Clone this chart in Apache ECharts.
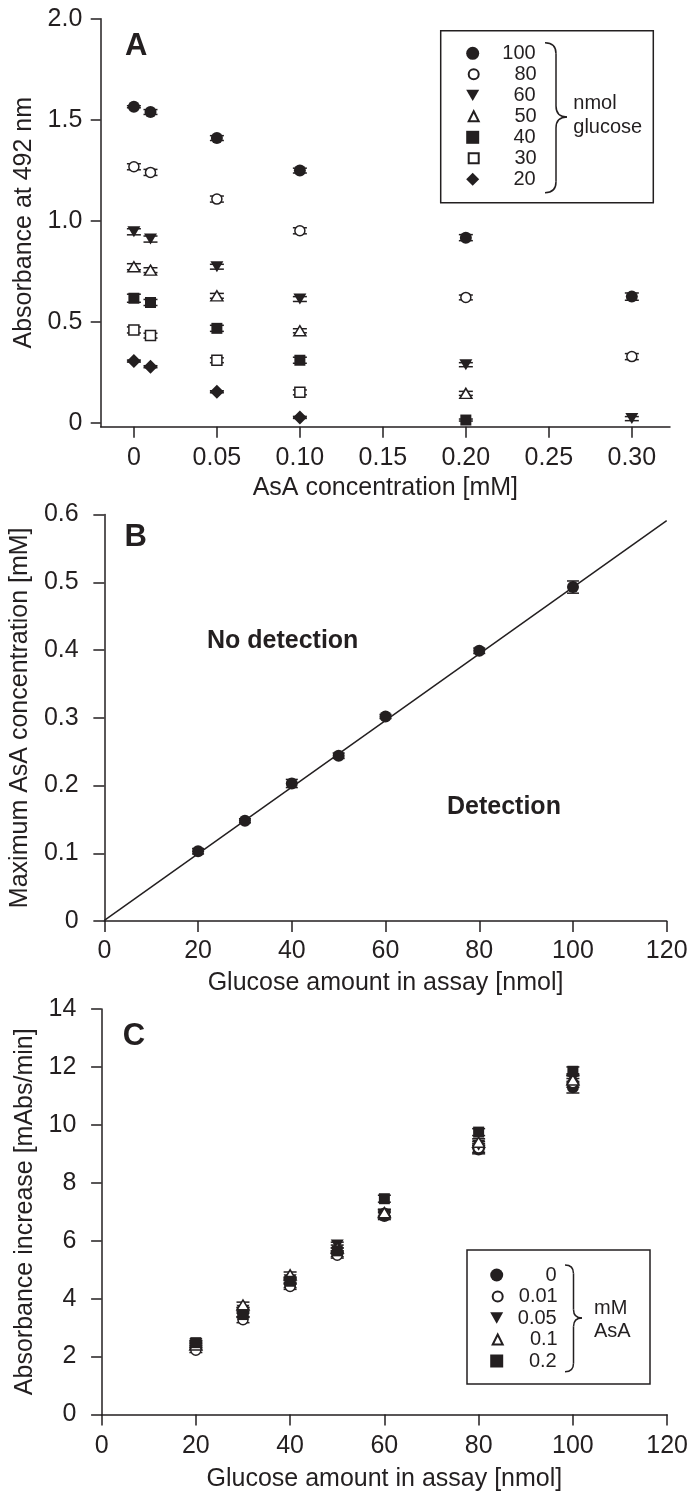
<!DOCTYPE html>
<html>
<head>
<meta charset="utf-8">
<title>AsA interference on glucose assay</title>
<script src="https://cdn.jsdelivr.net/npm/echarts@6/dist/echarts.min.js"></script>
<style>
  html, body { margin: 0; padding: 0; background: #fff; }
  #chart { width: 691px; height: 1493px; }
</style>
</head>
<body>
<div id="chart"></div>
<script>
// ---- data ----
// Panel A: absorbance vs AsA concentration, one series per nmol glucose
const aX = [0, 0.01, 0.05, 0.10, 0.20, 0.30];
const aNames = ['100', '80', '60', '50', '40', '30', '20'];
const aY100 = [1.564, 1.538, 1.409, 1.248, 0.916, 0.624];
const aY80  = [1.267, 1.239, 1.107, 0.950, 0.620, 0.327];
const aY60  = [0.945, 0.909, 0.772, 0.612, 0.287, 0.020];
const aY50  = [0.772, 0.755, 0.628, 0.455, 0.145, null];
const aY40  = [0.616, 0.595, 0.467, 0.309, 0.013, null];
const aY30  = [0.459, 0.431, 0.309, 0.150, null, null];
const aY20  = [0.305, 0.277, 0.153, 0.026, null, null];
const aE100 = [0.005, 0.012, 0.012, 0.012, 0.015, 0.018];
const aE80  = [0.015, 0.015, 0.015, 0.015, 0.012, 0.015];
const aE60  = [0.015, 0.015, 0.012, 0.012, 0.010, 0.010];
const aE50  = [0.015, 0.012, 0.012, 0.010, 0.010, null];
const aE40  = [0.020, 0.015, 0.015, 0.015, 0.005, null];
const aE30  = [0.015, 0.012, 0.012, 0.012, null, null];
const aE20  = [0.005, 0.005, 0.005, 0.005, null, null];

// Panel B: max AsA concentration vs glucose
const bX = [20, 30, 40, 50, 60, 80, 100];
const bY = [0.103, 0.148, 0.203, 0.244, 0.302, 0.399, 0.493];
const bE = [0.004, 0.003, 0.006, 0.004, 0.003, 0.004, 0.009];
const fitX = [0, 120];
const fitY = [0.001, 0.591];

// Panel C: absorbance increase vs glucose, one series per mM AsA
const cX = [20, 30, 40, 50, 60, 80, 100];
const cNames = ['0', '0.01', '0.05', '0.1', '0.2'];
const cY0   = [2.35, 3.50, 4.50, 5.55, 6.85, 9.15, 11.30];
const cY001 = [2.22, 3.27, 4.42, 5.50, 6.95, 9.20, 11.45];
const cY005 = [2.45, 3.60, 4.65, 5.85, 6.90, 9.30, 11.60];
const cY01  = [2.40, 3.78, 4.82, 5.75, 6.97, 9.40, 11.55];
const cY02  = [2.48, 3.45, 4.60, 5.65, 7.45, 9.75, 11.85];
const cE0   = [0.10, 0.12, 0.12, 0.10, 0.12, 0.15, 0.20];
const cE001 = [0.08, 0.10, 0.10, 0.10, 0.12, 0.15, 0.15];
const cE005 = [0.08, 0.10, 0.10, 0.10, 0.12, 0.12, 0.15];
const cE01  = [0.08, 0.10, 0.10, 0.10, 0.12, 0.12, 0.15];
const cE02  = [0.08, 0.10, 0.10, 0.10, 0.12, 0.12, 0.15];

// tick values and labels
const aXTicks = [0, 0.05, 0.10, 0.15, 0.20, 0.25, 0.30];
const aXLabels = ['0', '0.05', '0.10', '0.15', '0.20', '0.25', '0.30'];
const aYTicks = [0, 0.5, 1.0, 1.5, 2.0];
const aYLabels = ['0', '0.5', '1.0', '1.5', '2.0'];
const bXTicks = [0, 20, 40, 60, 80, 100, 120];
const bXLabels = ['0', '20', '40', '60', '80', '100', '120'];
const bYTicks = [0, 0.1, 0.2, 0.3, 0.4, 0.5, 0.6];
const bYLabels = ['0', '0.1', '0.2', '0.3', '0.4', '0.5', '0.6'];
const cYTicks = [0, 2, 4, 6, 8, 10, 12, 14];
const cYLabels = ['0', '2', '4', '6', '8', '10', '12', '14'];

// ---- styling ----
const ink = '#231f20';
const FONT = '"Liberation Sans", Arial, Helvetica, sans-serif';
const invTri = 'path://M0,0L10,0L5,8.66Z';

const aSeriesY = [aY100, aY80, aY60, aY50, aY40, aY30, aY20];
const aSeriesE = [aE100, aE80, aE60, aE50, aE40, aE30, aE20];
const aSym = [['circle', true], ['circle', false], [invTri, true], ['triangle', false], ['rect', true], ['rect', false], ['diamond', true]];
const cSeriesY = [cY0, cY001, cY005, cY01, cY02];
const cSeriesE = [cE0, cE001, cE005, cE01, cE02];
const cSym = [['circle', true], ['circle', false], [invTri, true], ['triangle', false], ['rect', true]];

function symSize(s, filled) {
  if (s === invTri) return [13, 11];
  if (s === 'triangle') return [12, 10];
  if (s === 'rect') return filled ? 11 : 10;
  if (s === 'diamond') return 14;
  return filled ? 12 : 10;
}

function labelFmt(ticks, labels) {
  return function (v) {
    for (let i = 0; i < ticks.length; i++) {
      if (Math.abs(ticks[i] - v) < 1e-6) return labels[i];
    }
    return '';
  };
}

function valueAxis(grid, min, max, ticks, labels, name, nameGap, labelMargin, tickLen) {
  return {
    gridIndex: grid, type: 'value', min: min, max: max,
    name: name, nameLocation: 'middle', nameGap: nameGap,
    nameTextStyle: { fontSize: 25, fontFamily: FONT, color: ink },
    axisLine: { show: true, onZero: false, lineStyle: { color: ink, width: 1.5 } },
    axisTick: { show: true, customValues: ticks, length: tickLen, lineStyle: { color: ink, width: 1.5 } },
    axisLabel: { customValues: ticks, formatter: labelFmt(ticks, labels), margin: labelMargin,
      fontSize: 25, fontFamily: FONT, color: ink },
    splitLine: { show: false }
  };
}

function errRender(half) {
  return function (params, api) {
    const x = api.value(0);
    const top = api.coord([x, api.value(2)]);
    const bot = api.coord([x, api.value(1)]);
    const st = { stroke: ink, lineWidth: 1.5 };
    return {
      type: 'group',
      children: [
        { type: 'line', shape: { x1: top[0], y1: top[1], x2: bot[0], y2: bot[1] }, style: st },
        { type: 'line', shape: { x1: top[0] - half, y1: top[1], x2: top[0] + half, y2: top[1] }, style: st },
        { type: 'line', shape: { x1: bot[0] - half, y1: bot[1], x2: bot[0] + half, y2: bot[1] }, style: st }
      ]
    };
  };
}

function pairs(xs, ys) {
  const out = [];
  xs.forEach((x, i) => { if (ys[i] != null) out.push([x, ys[i]]); });
  return out;
}
function errData(xs, ys, es) {
  const out = [];
  xs.forEach((x, i) => { if (ys[i] != null) out.push([x, ys[i] - es[i], ys[i] + es[i]]); });
  return out;
}

function scatterSeries(name, grid, xs, ys, sym) {
  const filled = sym[1];
  return {
    name: name, type: 'scatter', xAxisIndex: grid, yAxisIndex: grid,
    symbol: sym[0], symbolSize: symSize(sym[0], filled), z: 3,
    itemStyle: filled ? { color: ink, borderWidth: 0, opacity: 1 }
                      : { color: '#fff', borderColor: ink, borderWidth: 1.5, opacity: 1 },
    data: pairs(xs, ys)
  };
}
function errSeries(grid, xs, ys, es, half) {
  return {
    type: 'custom', xAxisIndex: grid, yAxisIndex: grid, z: 2, silent: true,
    renderItem: errRender(half), encode: { x: 0, y: [1, 2] },
    data: errData(xs, ys, es)
  };
}

const series = [];
aNames.forEach((n, i) => {
  series.push(errSeries(0, aX, aSeriesY[i], aSeriesE[i], 7));
  series.push(scatterSeries(n, 0, aX, aSeriesY[i], aSym[i]));
});
series.push({
  type: 'line', xAxisIndex: 1, yAxisIndex: 1, showSymbol: false, symbol: 'none', z: 1, silent: true,
  lineStyle: { color: ink, width: 1.5 }, data: pairs(fitX, fitY)
});
series.push(errSeries(1, bX, bY, bE, 6));
series.push(scatterSeries('B', 1, bX, bY, ['circle', true]));
cNames.forEach((n, i) => {
  series.push(errSeries(2, cX, cSeriesY[i], cSeriesE[i], 6.5));
  series.push(scatterSeries(n, 2, cX, cSeriesY[i], cSym[i]));
});

// legends: filled and open symbols get separate (interleaved) blocks so the
// open icons can be drawn smaller, as in the original figure
function legendBlock(names, syms, wantFilled, cx, rightEdge, firstTop, pitch) {
  const size = wantFilled ? 13 : 10;
  const picked = names.filter((n, i) => syms[i][1] === wantFilled);
  const firstIdx = names.findIndex((n, i) => syms[i][1] === wantFilled);
  return {
    data: picked, orient: 'vertical', left: cx - size / 2, top: firstTop + firstIdx * pitch, padding: 0,
    itemWidth: size, itemHeight: size, itemGap: 2 * pitch - 20, selectedMode: false,
    formatter: n => '{t|' + n + '}',
    textStyle: { rich: { t: { width: rightEdge - cx - size / 2 - 5, align: 'right', fontSize: 20,
      lineHeight: 20, fontFamily: FONT, color: ink } } }
  };
}

const lineStyle = { stroke: ink, lineWidth: 1.5, fill: 'none' };
function txt(x, y, s, size, bold) {
  return {
    type: 'text', x: x, y: y, silent: true,
    style: { text: s, fill: ink, font: (bold ? 'bold ' : '') + size + 'px ' + FONT,
      textAlign: 'left', textVerticalAlign: 'middle', align: 'left', verticalAlign: 'middle' }
  };
}
function box(x1, y1, x2, y2) {
  return { type: 'rect', silent: true, shape: { x: x1, y: y1, width: x2 - x1, height: y2 - y1 },
    style: lineStyle };
}
function curve(xa, ya, cx, cy, xb, yb) {
  return { type: 'bezierCurve', silent: true,
    shape: { x1: xa, y1: ya, cpx1: cx, cpy1: cy, x2: xb, y2: yb }, style: lineStyle };
}
function seg(xa, ya, xb, yb) {
  return { type: 'line', silent: true, shape: { x1: xa, y1: ya, x2: xb, y2: yb }, style: lineStyle };
}
// right-facing curly brace: ends at x0, spine at x1, tip at xt
function brace(x0, x1, xt, y0, ym, y1) {
  const r = xt - x1;
  return [
    curve(x0, y0, x1, y0, x1, y0 + r),
    seg(x1, y0 + r, x1, ym - r),
    curve(x1, ym - r, x1, ym, xt, ym),
    curve(xt, ym, x1, ym, x1, ym + r),
    seg(x1, ym + r, x1, y1 - r),
    curve(x1, y1 - r, x1, y1, x0, y1)
  ];
}

const graphics = [
  txt(125, 46.2, 'A', 31, true),
  txt(124.6, 537, 'B', 31, true),
  txt(122.7, 1036, 'C', 31, true),
  txt(207, 641, 'No detection', 25, true),
  txt(447, 807, 'Detection', 25, true),
  box(440.7, 30.7, 653.3, 202.7),
  txt(573.3, 103.8, 'nmol', 20, false),
  txt(573.3, 127, 'glucose', 20, false),
  box(467, 1250, 650, 1384),
  txt(594, 1308, 'mM', 20, false),
  txt(594, 1331.4, 'AsA', 20, false)
].concat(brace(545, 556, 567, 42.7, 117, 192.7), brace(565, 573.5, 582, 1265, 1318, 1371.7));

const option = {
  animation: false,
  backgroundColor: '#fff',
  textStyle: { fontFamily: FONT, color: ink },
  grid: [
    { left: 100.7, top: 18.7, width: 569.3, height: 408 },
    { left: 102.7, top: 514.6, width: 564, height: 406.4 },
    { left: 101.6, top: 1009, width: 567, height: 405.8 }
  ],
  xAxis: [
    valueAxis(0, -0.02, 0.323, aXTicks, aXLabels, 'AsA concentration [mM]', 48.5, 18.5, 11),
    valueAxis(1, 0, 120, bXTicks, bXLabels, 'Glucose amount in assay [nmol]', 50, 18, 11),
    valueAxis(2, 0, 120, bXTicks, bXLabels, 'Glucose amount in assay [nmol]', 52.5, 19.5, 11)
  ],
  yAxis: [
    valueAxis(0, -0.02, 2.0, aYTicks, aYLabels, 'Absorbance at 492 nm', 58, 18.4, 10),
    valueAxis(1, 0, 0.6, bYTicks, bYLabels, 'Maximum AsA concentration [mM]', 59, 25.7, 11),
    valueAxis(2, 0, 14, cYTicks, cYLabels, 'Absorbance increase [mAbs/min]', 58, 25.2, 10.5)
  ],
  legend: [
    legendBlock(aNames, aSym, true, 472.7, 535.7, 43.3, 21),
    legendBlock(aNames, aSym, false, 472.7, 535.7, 43.3, 21),
    legendBlock(cNames, cSym, true, 496.7, 556.7, 1265, 21.5),
    legendBlock(cNames, cSym, false, 496.7, 556.7, 1265, 21.5)
  ],
  graphic: graphics,
  series: series
};

const chart = echarts.init(document.getElementById('chart'), null, { renderer: 'canvas' });
chart.setOption(option);
</script>
</body>
</html>
